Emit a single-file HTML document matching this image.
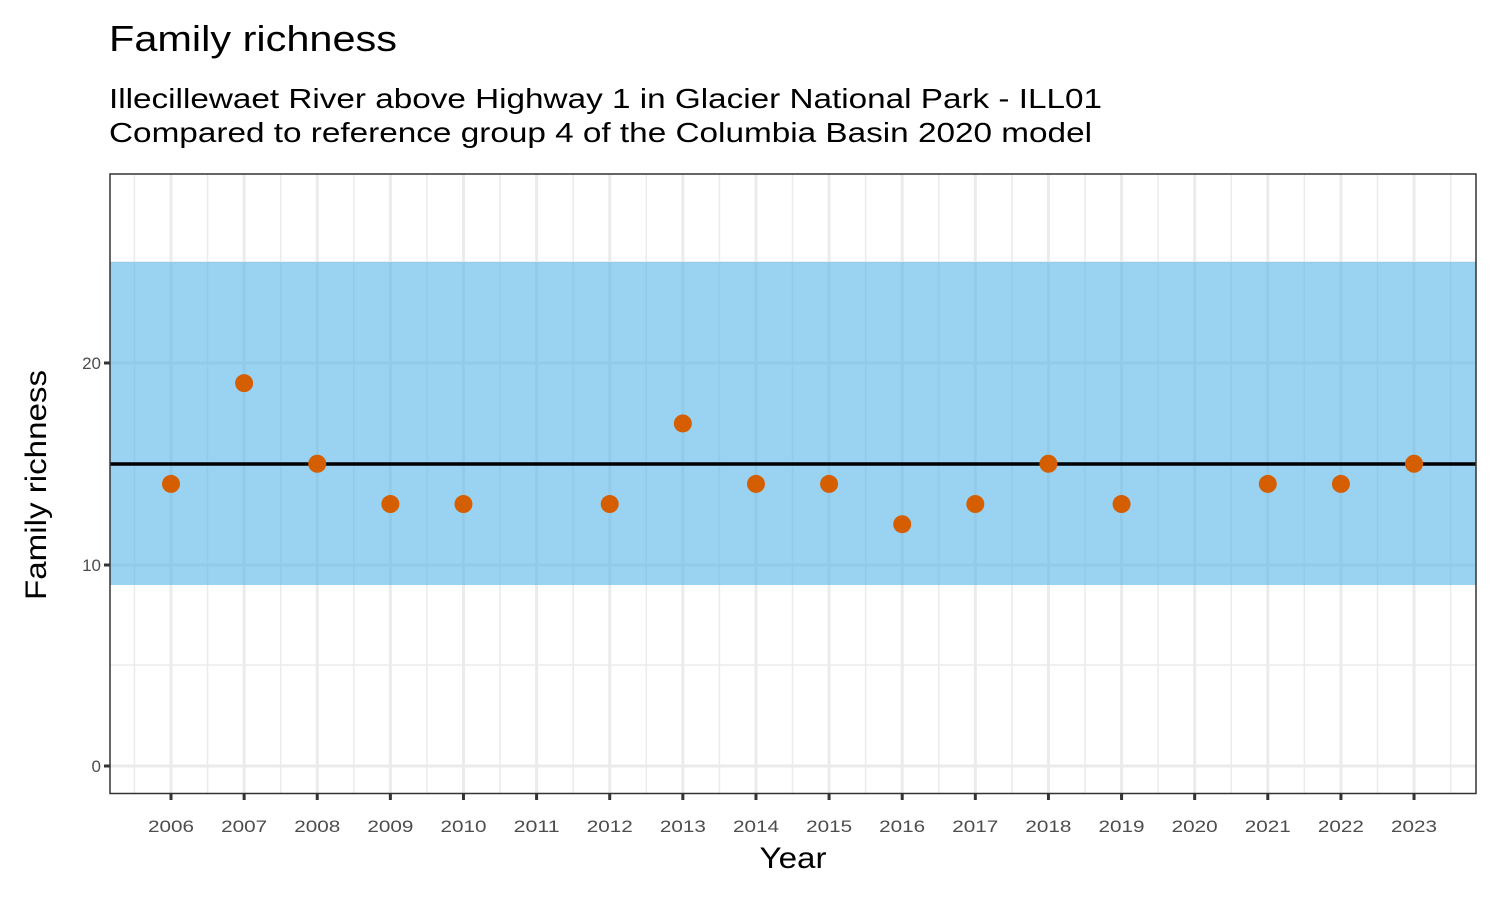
<!DOCTYPE html>
<html><head><meta charset="utf-8"><style>html,body{margin:0;padding:0;background:#fff}svg{display:block}</style></head>
<body>
<svg width="1500" height="900" xmlns="http://www.w3.org/2000/svg" font-family="Liberation Sans, Arial, sans-serif">
<rect width="1500" height="900" fill="#fff"/>
<text x="109" y="51" font-size="36" fill="#000" textLength="288" lengthAdjust="spacingAndGlyphs">Family richness</text>
<text x="109" y="108" font-size="28" fill="#000" textLength="993" lengthAdjust="spacingAndGlyphs">Illecillewaet River above Highway 1 in Glacier National Park - ILL01</text>
<text x="109" y="142" font-size="28" fill="#000" textLength="983" lengthAdjust="spacingAndGlyphs">Compared to reference group 4 of the Columbia Basin 2020 model</text>
<g id="grid">
<g stroke="#ebebeb" stroke-width="1.5">
<line x1="110" x2="1476" y1="665" y2="665"/><line x1="110" x2="1476" y1="464" y2="464"/><line x1="110" x2="1476" y1="262" y2="262"/>
</g>
<g stroke="#ebebeb" stroke-width="3">
<line x1="110" x2="1476" y1="766" y2="766"/><line x1="110" x2="1476" y1="565" y2="565"/><line x1="110" x2="1476" y1="363" y2="363"/>
</g>
<g id="vx"></g>
</g>
<rect x="110" y="262" width="1366" height="323" fill="#56B4E9" fill-opacity="0.6"/>
<line x1="110" x2="1476" y1="464" y2="464" stroke="#000" stroke-width="3.5"/>
<g id="pts" fill="#D55E00"></g>
<rect x="110" y="174" width="1366" height="619.5" fill="none" stroke="#333" stroke-width="1.5"/>
<g stroke="#333" stroke-width="3">
<line x1="104" x2="110" y1="766" y2="766"/><line x1="104" x2="110" y1="565" y2="565"/><line x1="104" x2="110" y1="363" y2="363"/>
</g>
<g font-size="17" fill="#4d4d4d" text-anchor="end">
<text x="101" y="772">0</text><text x="101" y="571">10</text><text x="101" y="369">20</text>
</g>
<g id="xt"></g>
<text x="793" y="868" font-size="30" text-anchor="middle" textLength="67" lengthAdjust="spacingAndGlyphs">Year</text>
<text transform="translate(46,485) rotate(-90)" font-size="30" text-anchor="middle" textLength="230" lengthAdjust="spacingAndGlyphs">Family richness</text>
<script>
var ns="http://www.w3.org/2000/svg";
function el(t,a,p,txt){var e=document.createElementNS(ns,t);for(var k in a)e.setAttribute(k,a[k]);if(txt)e.textContent=txt;document.getElementById(p).appendChild(e);}
var x0=171,st=73.12;
for(var i=0;i<18;i++){var x=x0+i*st;
el("line",{x1:x,x2:x,y1:174,y2:793,stroke:"#ebebeb","stroke-width":3},"vx");
el("line",{x1:x-st/2,x2:x-st/2,y1:174,y2:793,stroke:"#ebebeb","stroke-width":1.5},"vx");
el("line",{x1:x,x2:x,y1:794,y2:800,stroke:"#333","stroke-width":3},"xt");
el("text",{x:x,y:832,"font-size":17,fill:"#4d4d4d","text-anchor":"middle",textLength:46,lengthAdjust:"spacingAndGlyphs"},"xt",String(2006+i));}
el("line",{x1:x0+17.5*st,x2:x0+17.5*st,y1:174,y2:793,stroke:"#ebebeb","stroke-width":1.5},"vx");
var d={2006:14,2007:19,2008:15,2009:13,2010:13,2012:13,2013:17,2014:14,2015:14,2016:12,2017:13,2018:15,2019:13,2021:14,2022:14,2023:15};
for(var y in d){el("circle",{cx:x0+(y-2006)*st,cy:766-d[y]*20.15,r:9},"pts");}
</script>
</svg>
</body></html>
